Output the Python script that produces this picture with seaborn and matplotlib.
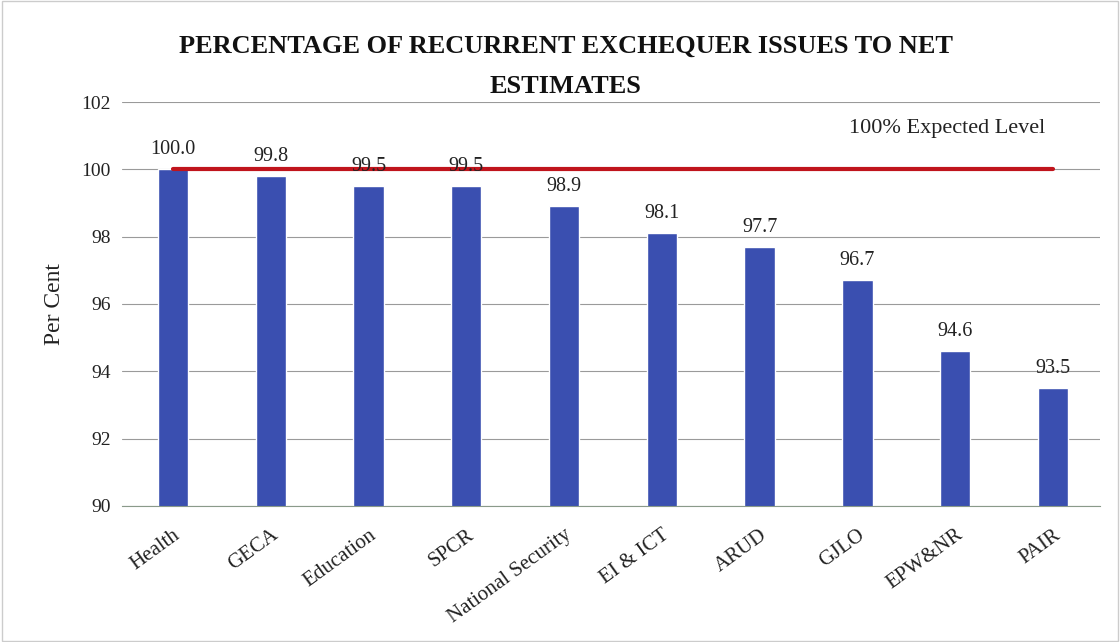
import matplotlib
matplotlib.use("Agg")
import matplotlib.pyplot as plt
import seaborn as sns
import pandas as pd

# data
categories = ["Health", "GECA", "Education", "SPCR", "National Security",
              "EI & ICT", "ARUD", "GJLO", "EPW&NR", "PAIR"]
values = [100.0, 99.8, 99.5, 99.5, 98.9, 98.1, 97.7, 96.7, 94.6, 93.5]
expected = [100] * len(categories)

df = pd.DataFrame({"Sector": categories, "Per Cent": values, "Expected": expected})

sns.set_style("white")
plt.rcParams["font.family"] = ["Liberation Serif", "DejaVu Serif"]

fig = plt.figure(figsize=(11.2, 6.42), dpi=100)
ax = fig.add_axes([0.109, 0.212, 0.873, 0.629])

sns.barplot(data=df, x="Sector", y="Per Cent", color="#3a4fb0",
            saturation=1, width=0.31, ax=ax)
ax.plot(df["Sector"], df["Expected"], color="#c0141c", linewidth=3,
        solid_capstyle="round", zorder=4)

for i, v in enumerate(values):
    ax.text(i, v + 0.3, f"{v:.1f}", ha="center", va="bottom",
            fontsize=14.5, color="#222222", zorder=5)

ax.text(7.92, 101.2, "100% Expected Level", ha="center", va="center",
        fontsize=16, color="#222222")

ax.set_ylim(90, 102)
ax.set_yticks(range(90, 103, 2))
ax.set_xlim(-0.52, 9.48)
ax.yaxis.grid(True, color="#9a9a9a", linewidth=0.8)
ax.set_axisbelow(True)
for s in ["top", "right", "left"]:
    ax.spines[s].set_visible(False)
ax.spines["bottom"].set_color("#8a9a8a")
ax.tick_params(axis="both", length=0, labelsize=14, colors="#222222")
ax.tick_params(axis="y", pad=8)
ax.tick_params(axis="x", pad=14)
plt.setp(ax.get_xticklabels(), rotation=36, ha="right", rotation_mode="anchor",
         fontsize=15)
ax.set_xlabel("")
ax.set_ylabel("Per Cent", fontsize=17, color="#222222", labelpad=12)

fig.text(0.505, 0.897, "PERCENTAGE OF RECURRENT EXCHEQUER ISSUES TO NET\nESTIMATES",
         ha="center", va="center", fontsize=19, fontweight="bold",
         color="#111111", linespacing=1.95)

fig.patches.append(plt.Rectangle((0.002, 0.002), 0.996, 0.996, fill=False,
                                 edgecolor="#cccccc", linewidth=1,
                                 transform=fig.transFigure))

fig.savefig("out.png", dpi=100)
